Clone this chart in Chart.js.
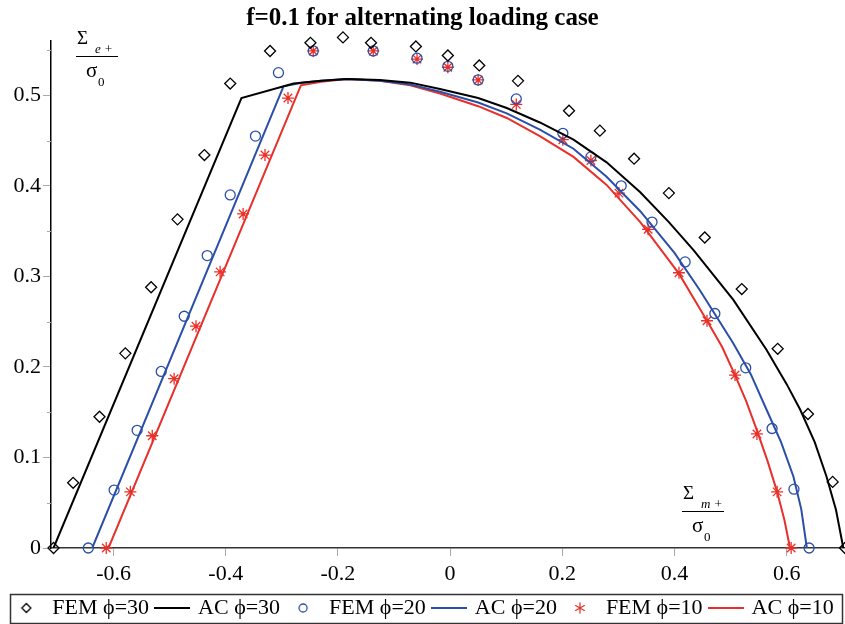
<!DOCTYPE html>
<html><head><meta charset="utf-8">
<script src="https://cdn.jsdelivr.net/npm/chart.js@4/dist/chart.umd.min.js"></script>
<style>html,body{margin:0;padding:0;background:#fff}#wrap{width:845px;height:624px}</style>
</head><body><div id="wrap"><canvas id="c" width="845" height="624"></canvas></div>
<script>
// ---- data ----
const fem30X = [-0.707,-0.672,-0.625,-0.579,-0.533,-0.486,-0.438,-0.392,-0.321,-0.249,-0.191,-0.141,-0.061,-0.004,0.052,0.121,0.212,0.267,0.328,0.390,0.454,0.520,0.584,0.638,0.682,0.704];
const fem30Y = [0,0.072,0.145,0.215,0.288,0.363,0.434,0.513,0.549,0.558,0.564,0.558,0.554,0.544,0.533,0.516,0.483,0.461,0.430,0.392,0.343,0.286,0.220,0.148,0.073,0];
const fem20X = [-0.645,-0.599,-0.558,-0.515,-0.474,-0.433,-0.392,-0.347,-0.306,-0.244,-0.137,-0.059,-0.004,0.050,0.118,0.201,0.251,0.305,0.360,0.419,0.472,0.527,0.574,0.613,0.640];
const fem20Y = [0,0.064,0.130,0.195,0.256,0.323,0.390,0.455,0.525,0.549,0.549,0.541,0.532,0.517,0.496,0.458,0.432,0.400,0.360,0.316,0.259,0.199,0.132,0.065,0];
const fem10X = [-0.613,-0.570,-0.531,-0.492,-0.453,-0.410,-0.369,-0.330,-0.289,-0.244,-0.137,-0.059,-0.004,0.050,0.118,0.201,0.251,0.301,0.353,0.408,0.458,0.508,0.547,0.583,0.608];
const fem10Y = [0,0.062,0.124,0.187,0.245,0.305,0.369,0.434,0.497,0.549,0.549,0.540,0.531,0.517,0.490,0.451,0.428,0.392,0.352,0.304,0.251,0.191,0.126,0.062,0];
const ac30X = [-0.707,-0.372,-0.279,-0.23,-0.184,-0.125,-0.071,-0.018,0.05,0.101,0.16,0.22,0.279,0.339,0.39,0.434,0.505,0.564,0.60,0.624,0.65,0.671,0.688,0.701];
const ac30Y = [0,0.497,0.513,0.516,0.518,0.517,0.514,0.507,0.497,0.486,0.470,0.451,0.426,0.393,0.360,0.329,0.274,0.219,0.181,0.153,0.117,0.079,0.042,0];
const ac20X = [-0.638,-0.297,-0.264,-0.23,-0.184,-0.125,-0.071,-0.018,0.05,0.101,0.16,0.22,0.279,0.339,0.40,0.445,0.505,0.536,0.564,0.59,0.612,0.626,0.636];
const ac20Y = [0,0.510,0.514,0.516,0.518,0.516,0.512,0.504,0.492,0.480,0.462,0.441,0.410,0.372,0.326,0.285,0.226,0.192,0.153,0.117,0.079,0.043,0];
const ac10X = [-0.609,-0.266,-0.23,-0.184,-0.125,-0.071,-0.018,0.05,0.101,0.16,0.22,0.279,0.339,0.408,0.458,0.485,0.508,0.528,0.547,0.566,0.583,0.596,0.606];
const ac10Y = [0,0.511,0.515,0.518,0.516,0.511,0.502,0.488,0.475,0.455,0.432,0.401,0.360,0.303,0.251,0.222,0.191,0.162,0.130,0.096,0.062,0.031,0];
const seriesLabels = ['FEM \u03D5=30','AC \u03D5=30','FEM \u03D5=20','AC \u03D5=20','FEM \u03D5=10','AC \u03D5=10'];
const titleText = 'f=0.1 for alternating loading case';
const yMinorTicks = [0.05,0.15,0.25,0.35,0.45,0.55];

const BLACK = '#000000', BLUE = '#2b4fa8', RED = '#e8302a';
const SERIF = "'Liberation Serif', 'Times New Roman', serif";

function pts(xs, ys){ return xs.map((x,i)=>({x:x, y:ys[i]})); }

// legend icons (styling only)
function icon(w, h, draw){ const c=document.createElement('canvas'); c.width=w; c.height=h; const g=c.getContext('2d'); draw(g,w,h); return c; }
const icDiamond = icon(12,12,(g)=>{g.strokeStyle=BLACK;g.lineWidth=1.3;g.beginPath();g.moveTo(6,1.5);g.lineTo(10.5,6);g.lineTo(6,10.5);g.lineTo(1.5,6);g.closePath();g.stroke();});
const icCircle = icon(12,12,(g)=>{g.strokeStyle=BLUE;g.lineWidth=1.3;g.beginPath();g.arc(6,6,4,0,Math.PI*2);g.stroke();});
const icStar = icon(14,14,(g)=>{g.strokeStyle=RED;g.lineWidth=1.3;g.beginPath();for(let k=0;k<3;k++){const a=Math.PI/2+k*Math.PI/3;g.moveTo(7+5.5*Math.cos(a),7+5.5*Math.sin(a));g.lineTo(7-5.5*Math.cos(a),7-5.5*Math.sin(a));}g.stroke();});
function icLine(col){ return icon(36,4,(g)=>{g.strokeStyle=col;g.lineWidth=2;g.beginPath();g.moveTo(0,2);g.lineTo(36,2);g.stroke();}); }
const legendIcons = [icDiamond, icLine(BLACK), icCircle, icLine(BLUE), icStar, icLine(RED)];

const fracPlugin = {
  id: 'frac',
  afterDraw(chart){
    const ctx = chart.ctx;
    ctx.save();
    ctx.fillStyle = '#000'; ctx.strokeStyle = '#000';
    ctx.textBaseline = 'alphabetic'; ctx.textAlign = 'left';
    function frac(x, y, sub){
      ctx.font = '19px ' + SERIF; ctx.fillText('\u03A3', x + 1, y - 12);
      ctx.font = 'italic 13px ' + SERIF; ctx.fillText(sub, x + 19, y - 3);
      ctx.lineWidth = 1; ctx.beginPath(); ctx.moveTo(x, y + 0.5); ctx.lineTo(x + 42, y + 0.5); ctx.stroke();
      ctx.font = '21px ' + SERIF; ctx.fillText('\u03C3', x + 10, y + 21);
      ctx.font = '13px ' + SERIF; ctx.fillText('0', x + 22, y + 30);
    }
    frac(76, 56, 'e +');
    frac(682, 511, 'm +');
    // minor ticks on y axis
    const ys = chart.scales.y;
    ctx.strokeStyle = '#aaaaaa'; ctx.lineWidth = 1;
    yMinorTicks.forEach(v=>{ const py = Math.round(ys.getPixelForValue(v)) + 0.5; ctx.beginPath(); ctx.moveTo(ys.right - 4, py); ctx.lineTo(ys.right, py); ctx.stroke(); });
    // legend frame
    const L = chart.legend;
    if (L && L.legendHitBoxes && L.legendHitBoxes.length){
      const hb = L.legendHitBoxes[0];
      const cy = hb.top + hb.height/2;
      ctx.strokeStyle = '#333'; ctx.lineWidth = 1.5;
      ctx.strokeRect(10.5, Math.round(cy - 14.5) + 0.5, 832, 29);
    }
    ctx.restore();
  }
};

const femCommon = { showLine:false, borderWidth:1.3, backgroundColor:'rgba(0,0,0,0)', clip:false };
const acCommon = { showLine:true, pointRadius:0, borderWidth:2, fill:false, tension:0 };

new Chart(document.getElementById('c'), {
  type: 'scatter',
  data: { datasets: [
    Object.assign({ label: seriesLabels[0], data: pts(fem30X, fem30Y), pointStyle:'rectRot', pointRadius:5.5, borderColor: BLACK }, femCommon),
    Object.assign({ label: seriesLabels[1], data: pts(ac30X, ac30Y), borderColor: BLACK }, acCommon),
    Object.assign({ label: seriesLabels[2], data: pts(fem20X, fem20Y), pointStyle:'circle', pointRadius:5, borderColor: BLUE }, femCommon),
    Object.assign({ label: seriesLabels[3], data: pts(ac20X, ac20Y), borderColor: BLUE }, acCommon),
    Object.assign({ label: seriesLabels[4], data: pts(fem10X, fem10Y), pointStyle:'star', pointRadius:6, borderColor: RED }, femCommon),
    Object.assign({ label: seriesLabels[5], data: pts(ac10X, ac10Y), borderColor: RED }, acCommon)
  ]},
  options: {
    responsive:false, animation:false, devicePixelRatio:1,
    layout: { autoPadding:false, padding: { left:0, right:0, top:0, bottom:-5 } },
    plugins: {
      title: { display:true, text: titleText, color:'#000', font:{ family: SERIF, size:25, weight:'bold', lineHeight:1.2 }, padding:{ top:4, bottom:7 } },
      legend: { position:'bottom', labels: { usePointStyle:true, pointStyleWidth:30, padding:8, color:'#000', font:{ family: SERIF, size:22 },
        generateLabels(chart){ const items = Chart.defaults.plugins.legend.labels.generateLabels(chart); items.forEach((it,i)=>{ it.pointStyle = legendIcons[i]; }); return items; } } },
      tooltip: { enabled:false }
    },
    scales: {
      x: { type:'linear', min:-0.7115, max:0.704, afterFit(s){ s.height = 41; },
        border:{ color:'#333', width:1.5 }, grid:{ drawOnChartArea:false, tickLength:8, color:'#aaaaaa' },
        ticks:{ stepSize:0.2, includeBounds:false, padding:5, color:'#000', font:{ family: SERIF, size:22 } } },
      y: { type:'linear', min:0, max:0.56, afterFit(s){ s.width = 51; },
        border:{ color:'#000', width:1.5 }, grid:{ drawOnChartArea:false, tickLength:8, color:'#aaaaaa' },
        ticks:{ stepSize:0.1, includeBounds:false, padding:2, color:'#000', font:{ family: SERIF, size:22 } } }
    }
  },
  plugins: [fracPlugin]
});
</script></body></html>
